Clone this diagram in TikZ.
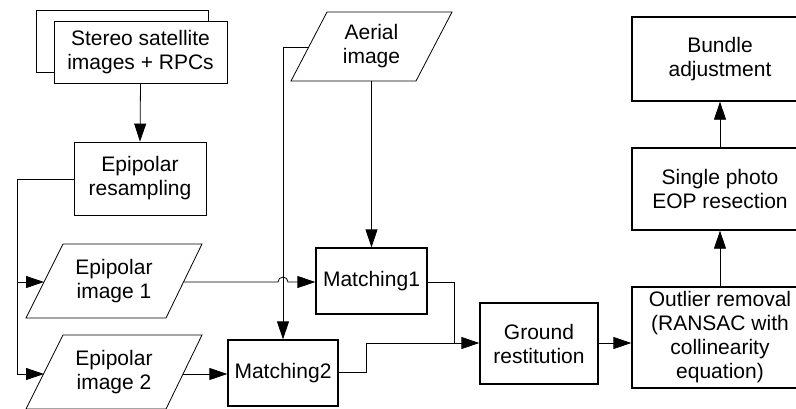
\documentclass[tikz,border=0pt]{standalone}
\usepackage{fontspec}
\setmainfont{Liberation Sans}
\usetikzlibrary{arrows.meta,calc}
\begin{document}
\begin{tikzpicture}[x=1pt,y=-1pt,
  txt/.style={font=\fontsize{21}{24}\selectfont, align=center, inner sep=0pt},
  box/.style={txt, draw, line width=0.8pt, fill=white},
  bbox/.style={txt, draw, line width=1.3pt, fill=white},
  conn/.style={line width=0.8pt},
  arr/.style={conn, -{Triangle[length=18pt,width=12pt]}},
  para/.style={draw, line width=0.8pt, fill=white}]
\clip (0,0) rectangle (796,408);
\fill[white] (0,0) rectangle (796,408);

% stacked satellite images
\node[box, minimum width=172pt, minimum height=62pt] (stback) at (122,41) {};
\node[box, minimum width=173pt, minimum height=62pt] (stereo) at (140.5,52) {Stereo satellite\\images + RPCs};

\node[box, minimum width=132pt, minimum height=73pt] (resamp) at (140,178.5) {Epipolar\\resampling};

% parallelograms
\draw[para] (63,244) -- (202,244) -- (166,318) -- (26,318) -- cycle;
\node[txt] (epi1) at (114,281) {Epipolar\\image 1};
\coordinate (epi1l) at (44,282);
\coordinate (epi1r) at (184,282);

\draw[para] (63,335) -- (202,335) -- (166,409) -- (26,409) -- cycle;
\node[txt] (epi2) at (114,372) {Epipolar\\image 2};
\coordinate (epi2l) at (44,374);
\coordinate (epi2r) at (183,374);

\draw[para] (327,12) -- (452,12) -- (416,81) -- (291,81) -- cycle;
\node[txt] (aerial) at (371.5,46.5) {Aerial\\image};
\coordinate (aerl) at (309,47);
\coordinate (aerb) at (371.5,81);

\node[bbox, minimum width=111pt, minimum height=66pt] (m1) at (371.5,281) {Matching1};
\node[bbox, minimum width=110pt, minimum height=66pt] (m2) at (283,373) {Matching2};
\node[bbox, minimum width=118pt, minimum height=81pt] (ground) at (539,343.5) {Ground\\restitution};
\node[bbox, minimum width=176pt, minimum height=101pt] (outlier) at (720,337.5) {Outlier removal\\(RANSAC with\\collinearity\\equation)};
\node[bbox, minimum width=176pt, minimum height=82pt] (single) at (720,189) {Single photo\\EOP resection};
\node[bbox, minimum width=176pt, minimum height=84pt] (bundle) at (720,59) {Bundle\\adjustment};

% connectors
\draw[arr] (stereo.south) -- (resamp.north);
\coordinate (lx) at (17,179);
\draw[arr] (resamp.west |- lx) -- (lx) |- (epi2l);
\draw[arr] (17,282) -- (epi1l);
\draw[arr] (epi2r) -- (epi2r -| m2.west);

\draw[arr] (aerb) -- (aerb |- m1.north);
\coordinate (ac) at (283,47);
\draw[arr] (aerl) -- (ac) -- (ac |- m2.north);

\draw[arr] (epi1r) -- (278,282) arc[start angle=180, end angle=360, radius=5] -- (m1.west |- epi1r);

\coordinate (j) at (454,343);
\draw[conn] (m1.east |- 0,282) -| (j);
\draw[arr] (m2.east |- 0,372) -- (366,372) |- (j -| ground.west);
\draw[arr] (ground.east |- j) -- (j -| outlier.west);

\draw[arr] (outlier.north) -- (single.south);
\draw[arr] (single.north) -- (bundle.south);
\end{tikzpicture}
\end{document}
